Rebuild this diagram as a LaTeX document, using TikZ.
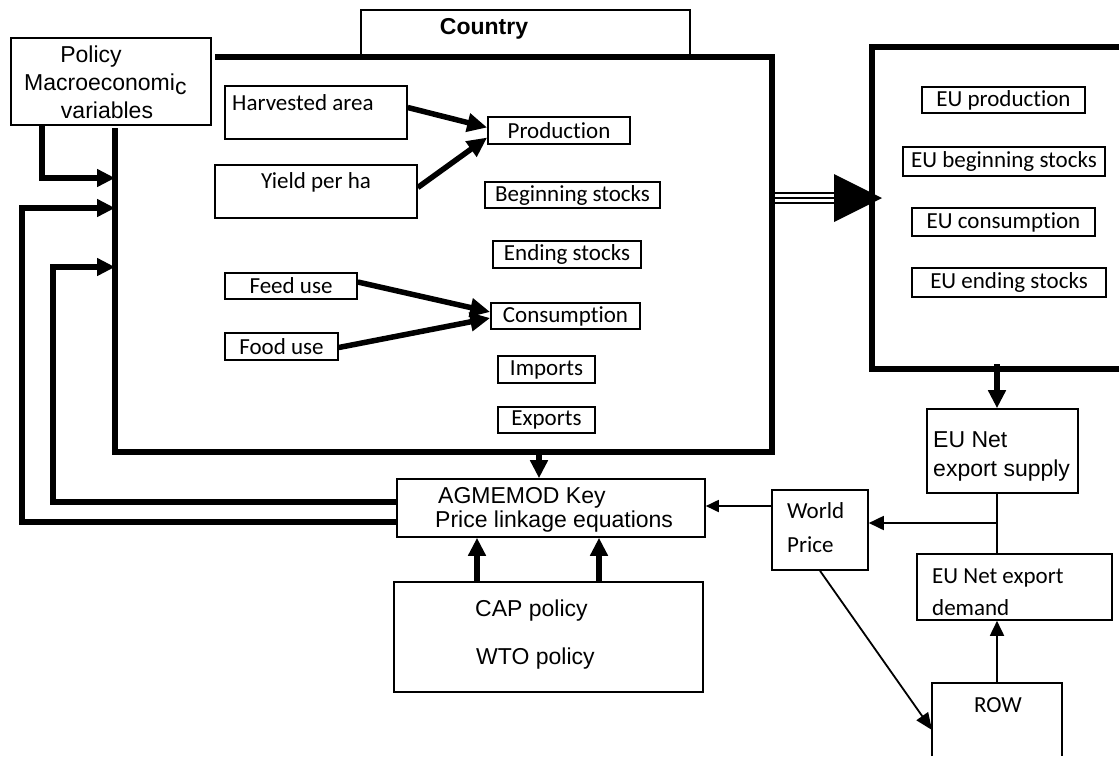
\documentclass[tikz,border=0pt]{standalone}
\usepackage{fontspec}
\setmainfont{Carlito}[Ligatures=CommonOff]
\newfontfamily\arialf{Liberation Sans}
\usetikzlibrary{arrows.meta}
\tikzset{
  tbox/.style={draw, line width=1.6pt, inner sep=0pt, font=\fontsize{23}{27}\selectfont},
  lbl/.style={inner sep=0pt, anchor=base west, font=\fontsize{23}{27}\selectfont},
  albl/.style={inner sep=0pt, anchor=base west, font=\arialf\fontsize{23}{27}\selectfont},
  tharrow/.style={line width=5.5pt, -{Triangle[length=18pt,width=17pt]}},
  tnarrow/.style={line width=1.8pt, -{Triangle[length=15pt,width=14pt]}},
  thline/.style={line width=5.5pt, line join=miter},
  tnline/.style={line width=1.8pt},
}
\begin{document}
\begin{tikzpicture}[x=1pt,y=-1pt]
\useasboundingbox (0,0) rectangle (1119,756);
% ---------- Country frame ----------
\coordinate (cTL) at (215,57);
\coordinate (cTR) at (772,57);
\coordinate (cBR) at (772,452);
\coordinate (cBL) at (115,452);
\coordinate (cLT) at (115,128);
\draw[thline] (cTL) -- (cTR) -- (cBR) -- (cBL) -- (cLT);
\node[tbox, minimum width=329pt, minimum height=47pt] (tab) at (525.5,33.5) {};
\node[albl, font=\arialf\bfseries\fontsize{23}{27}\selectfont, anchor=base] (ctry) at (484,34) {Country};
% ---------- Policy box ----------
\node[tbox, minimum width=200pt, minimum height=87pt] (pol) at (111,81.5) {};
\node[albl, anchor=base] at (91,62) {Policy};
\node[albl, anchor=base west] at (24,90) {Macroeconomi\raisebox{-4pt}{c}};
\node[albl, anchor=base] at (107,118) {variables};
% ---------- inner boxes ----------
\node[tbox, minimum width=182pt, minimum height=53pt] (ha) at (316,112.5) {};
\node[lbl] at (232,110) {Harvested area};
\node[tbox, minimum width=202pt, minimum height=53pt] (yl) at (316,191.5) {};
\node[lbl, anchor=base] at (316,188) {Yield per ha};
\node[tbox, minimum width=142pt, minimum height=27pt] (prod) at (559,130.5) {Production};
\node[tbox, minimum width=175pt, minimum height=26pt] (beg) at (572.5,195) {Beginning stocks};
\node[tbox, minimum width=148pt, minimum height=27pt] (end) at (567,254.5) {Ending stocks};
\node[tbox, minimum width=132pt, minimum height=26pt] (feed) at (291,286) {Feed use};
\node[tbox, minimum width=113pt, minimum height=27pt] (food) at (281.5,346.5) {Food use};
\node[tbox, minimum width=149pt, minimum height=26pt] (cons) at (565.5,316) {Consumption};
\node[tbox, minimum width=97pt, minimum height=27pt] (imp) at (546.5,369.5) {Imports};
\node[tbox, minimum width=97pt, minimum height=26pt] (exp) at (546.5,420) {Exports};
\draw[tharrow, -{Triangle[length=20pt,width=18pt]}] ([yshift=5pt]ha.east) -- ([yshift=3pt]prod.west);
\draw[tharrow, -{Triangle[length=20pt,width=18pt]}] ([yshift=4pt]yl.east) -- ([yshift=-7pt]prod.west);
\draw[tharrow, -{Triangle[length=20pt,width=18pt]}] ([yshift=4pt]feed.east) -- ([yshift=4pt]cons.west);
\draw[tharrow, -{Triangle[length=20pt,width=18pt]}] ([yshift=-1pt]food.east) -- ([yshift=-2pt]cons.west);
% ---------- AGMEMOD and CAP ----------
\node[tbox, minimum width=308pt, minimum height=58pt] (agm) at (551,508) {};
\node[albl] at (438,503) {AGMEMOD Key};
\node[albl] at (435,527) {Price linkage equations};
\node[tbox, minimum width=309pt, minimum height=110pt] (cap) at (548.5,637) {};
\node[albl] at (475,616) {CAP policy};
\node[albl] at (476,664) {WTO policy};
\coordinate (cd) at (539,452);
\draw[tharrow] (cd) -- ([xshift=-12pt]agm.north);
\draw[tharrow] ([xshift=-71.5pt]cap.north) -- ([xshift=-74pt]agm.south);
\draw[tharrow] ([xshift=50.5pt]cap.north) -- ([xshift=48pt]agm.south);
% ---------- left feedback arrows ----------
\coordinate (in1) at (115,178);
\coordinate (in2) at (115,208);
\coordinate (in3) at (115,267);
\draw[tharrow, line join=miter] ([xshift=-69pt]pol.south) |- (in1);
\draw[tharrow, line join=miter] ([yshift=-14pt]agm.west) -| ([xshift=-93pt]in2) -- (in2);
\draw[tharrow, line join=miter] ([yshift=6pt]agm.west) -| ([xshift=-62pt]in3) -- (in3);
% ---------- EU frame ----------
\coordinate (eTR) at (1119,47);
\coordinate (eTL) at (872,47);
\coordinate (eBL) at (872,369);
\coordinate (eBR) at (1119,369);
\draw[thline] (eTR) -- (eTL) -- (eBL) -- (eBR);
\node[tbox, minimum width=163pt, minimum height=26pt] (eup) at (1003.5,100) {EU production};
\node[tbox, minimum width=202pt, minimum height=29pt] (eub) at (1004,161.5) {EU beginning stocks};
\node[tbox, minimum width=183pt, minimum height=28pt] (euc) at (1003.5,222) {EU consumption};
\node[tbox, minimum width=194pt, minimum height=29pt] (eue) at (1009,282.5) {EU ending stocks};
% triple arrow
\coordinate (tA) at (772,198);
\coordinate (tB) at (834,198);
\coordinate (tTip) at (882,198);
\draw[line width=12pt] (tA) -- (tB);
\draw[white, line width=7.5pt] ([xshift=3pt]tA) -- ([xshift=1pt]tB);
\draw[line width=2pt] (tA) -- (tB);
\fill ([yshift=24pt]tB) -- (tTip) -- ([yshift=-24pt]tB) -- cycle;
% ---------- right lower part ----------
\node[tbox, minimum width=151pt, minimum height=84pt] (sup) at (1002.5,451) {};
\node[albl] at (933,447) {EU Net};
\node[albl] at (933,476) {export supply};
\coordinate (ed) at (997,364);
\draw[tharrow] (ed) -- ([xshift=-5.5pt]sup.north);
\node[tbox, minimum width=96pt, minimum height=80pt] (wp) at (820,530) {};
\node[lbl] at (787,518) {World};
\node[lbl] at (787,552) {Price};
\node[tbox, minimum width=195pt, minimum height=66pt] (dem) at (1014.5,587) {};
\node[lbl] at (932,583) {EU Net export};
\node[lbl] at (932,615) {demand};
\draw[tnline] ([xshift=-5.5pt]sup.south) -- ([xshift=-17.5pt]dem.north);
\coordinate (j) at (997,523);
\draw[tnarrow] (j) -- (j -| wp.east);
\draw[tnarrow, -{Triangle[length=13pt,width=12pt]}] ([yshift=24pt]wp.west) -- ([yshift=2pt]agm.east);
% ROW
\coordinate (rTL) at (932,683);
\coordinate (rTR) at (1062,683);
\coordinate (rBL) at (932,756);
\coordinate (rBR) at (1062,756);
\draw[line width=1.6pt] (rBL) -- (rTL) -- (rTR) -- (rBR);
\node[lbl, anchor=base] (row) at (998,712) {ROW};
\coordinate (rIn) at (932,730);
\coordinate (rTop) at (997,683);
\draw[tnarrow, -{Triangle[length=17pt,width=14pt]}] (wp.south) -- (rIn);
\draw[tnarrow] (rTop) -- ([xshift=-17.5pt]dem.south);
\end{tikzpicture}
\end{document}
